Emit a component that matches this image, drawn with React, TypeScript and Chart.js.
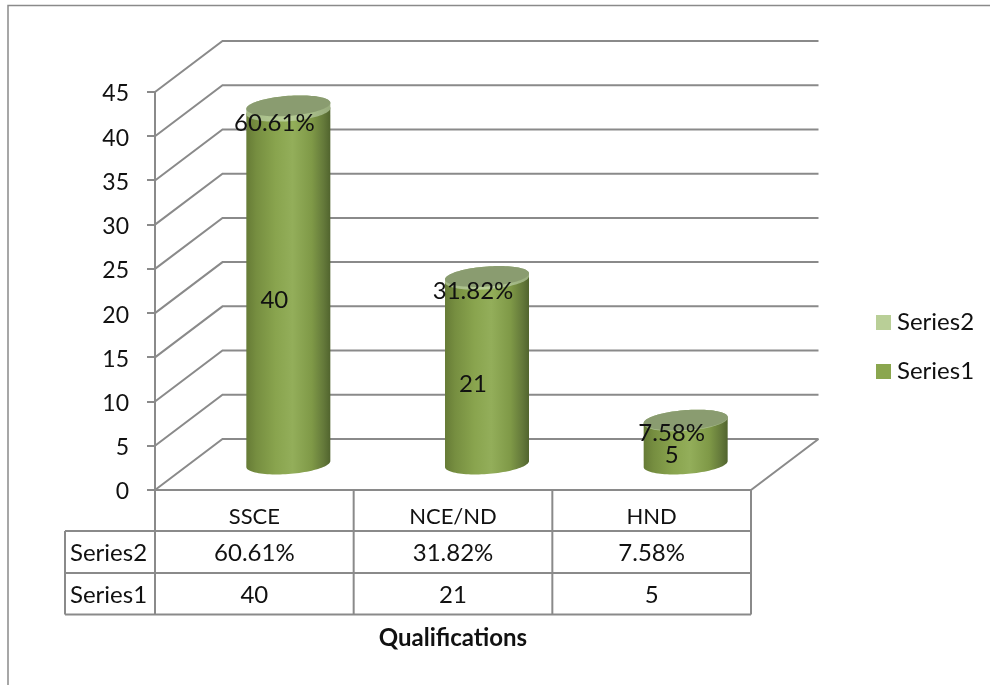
import React, { useEffect, useRef } from "react";
import { Chart, registerables } from "chart.js";

Chart.register(...registerables);

const categories = ["SSCE", "NCE/ND", "HND"];
const series1Values = [40, 21, 5];
const series2Percent = [60.61, 31.82, 7.58];
const yTicks = [0, 5, 10, 15, 20, 25, 30, 35, 40, 45];

const FONT = "Lato, 'Open Sans', sans-serif";
const LINE = "#8a8a8a";
const TEXT = "#111111";
const SERIES1 = "#8aa64e";
const SERIES2 = "#b9cf97";

// Oblique projection: how far the back wall sits from the front plane.
const DEPTH_X = 67.5;
const DEPTH_Y = -51;
// Columns stand half way into the floor; their labels a little nearer the front.
const COLUMN_DX = 34;
const COLUMN_DY = -25;
const LABEL_DX = 20;
const LABEL_DY = -13;
// Sheared ellipse of a column end.
const END_B = 10;
const END_TILT = 3;
// Lato sits a little high on a middle baseline.
const TEXT_NUDGE = 1.5;

function endPoint(cx: number, cy: number, a: number, t: number): [number, number] {
  return [cx + a * Math.cos(t), cy + END_B * Math.sin(t) - END_TILT * Math.cos(t)];
}

// Traces a column side from the front half of the lower end to the upper end.
function traceBody(ctx: CanvasRenderingContext2D, cx: number, top: number, bottom: number, a: number) {
  ctx.beginPath();
  for (let i = 0; i <= 48; i++) {
    const [x, y] = endPoint(cx, bottom, a, (i / 48) * Math.PI);
    if (i === 0) ctx.moveTo(x, y);
    else ctx.lineTo(x, y);
  }
  for (let i = 0; i <= 48; i++) {
    const [x, y] = endPoint(cx, top, a, Math.PI + (i / 48) * Math.PI);
    ctx.lineTo(x, y);
  }
  ctx.closePath();
}

function traceCap(ctx: CanvasRenderingContext2D, cx: number, cy: number, a: number) {
  ctx.beginPath();
  for (let i = 0; i <= 96; i++) {
    const [x, y] = endPoint(cx, cy, a, (i / 96) * Math.PI * 2);
    if (i === 0) ctx.moveTo(x, y);
    else ctx.lineTo(x, y);
  }
  ctx.closePath();
}

function sideGradient(ctx: CanvasRenderingContext2D, cx: number, a: number, stops: [number, string][]) {
  const g = ctx.createLinearGradient(cx - a, 0, cx + a, 0);
  stops.forEach(([o, c]) => g.addColorStop(o, c));
  return g;
}

const seriesOneShade: [number, string][] = [
  [0, "#667b36"],
  [0.12, "#768e40"],
  [0.35, "#89a44e"],
  [0.55, "#93ae5a"],
  [0.78, "#7f9947"],
  [0.92, "#64793a"],
  [1, "#51642e"],
];

const seriesTwoShade: [number, string][] = [
  [0, "#a3b886"],
  [0.5, "#b9cf97"],
  [1, "#98ac7d"],
];

const wallPlugin = {
  id: "wallsAndColumns",
  beforeDatasetsDraw(chart: any) {
    const { ctx, scales } = chart;
    const x = scales.x;
    const y = scales.y;
    const left = x.left;
    const right = x.right;
    const zero = y.getPixelForValue(0);

    ctx.save();
    // Frame of the chart object.
    ctx.strokeStyle = LINE;
    ctx.lineWidth = 1.5;
    ctx.beginPath();
    ctx.moveTo(8, 685);
    ctx.lineTo(8, 5.5);
    ctx.lineTo(990, 5.5);
    ctx.stroke();

    // Gridlines run along the back wall and fold forward down the side wall.
    ctx.lineWidth = 2;
    ctx.lineCap = "butt";
    yTicks.forEach((v) => {
      const py = y.getPixelForValue(v);
      ctx.beginPath();
      ctx.moveTo(left, py);
      ctx.lineTo(left + DEPTH_X, py + DEPTH_Y);
      ctx.lineTo(right + DEPTH_X, py + DEPTH_Y);
      ctx.stroke();
    });
    ctx.beginPath();
    ctx.moveTo(left, zero);
    ctx.lineTo(right, zero);
    ctx.lineTo(right + DEPTH_X, zero + DEPTH_Y);
    ctx.stroke();

    // Columns, taking their geometry from the bar elements.
    const lower = chart.getDatasetMeta(0).data;
    const upper = chart.getDatasetMeta(1).data;
    lower.forEach((bar: any, i: number) => {
      const props = bar.getProps(["x", "y", "base", "width"], true);
      const a = props.width / 2;
      const cx = props.x + COLUMN_DX;
      const bottom = props.base + COLUMN_DY;
      const top = props.y + COLUMN_DY;
      const capY = upper[i].getProps(["y"], true).y + COLUMN_DY;

      traceBody(ctx, cx, top, bottom, a);
      ctx.fillStyle = sideGradient(ctx, cx, a, seriesOneShade);
      ctx.fill();

      traceBody(ctx, cx, capY, top, a);
      ctx.fillStyle = sideGradient(ctx, cx, a, seriesTwoShade);
      ctx.fill();

      traceCap(ctx, cx, capY, a);
      ctx.fillStyle = "#8a9c70";
      ctx.fill();
    });
    ctx.restore();
    return false;
  },
  afterDraw(chart: any) {
    const { ctx, scales } = chart;
    const x = scales.x;
    const y = scales.y;
    const band = (x.right - x.left) / categories.length;
    const row0 = 531;
    const row1 = 573;
    const row2 = 614.5;
    const tableLeft = 65;

    ctx.save();
    // Data table grid.
    ctx.strokeStyle = LINE;
    ctx.lineWidth = 2;
    [row0, row1, row2].forEach((ry) => {
      ctx.beginPath();
      ctx.moveTo(tableLeft, ry);
      ctx.lineTo(x.right, ry);
      ctx.stroke();
    });
    ctx.beginPath();
    ctx.moveTo(tableLeft, row0);
    ctx.lineTo(tableLeft, row2);
    ctx.stroke();
    for (let i = 0; i <= categories.length; i++) {
      const vx = x.left + band * i;
      ctx.beginPath();
      ctx.moveTo(vx, y.getPixelForValue(0));
      ctx.lineTo(vx, row2);
      ctx.stroke();
    }

    ctx.fillStyle = TEXT;
    ctx.font = `24px ${FONT}`;
    ctx.textBaseline = "middle";

    // Row headers and cells.
    ctx.textAlign = "left";
    ctx.fillText("Series2", 70, (row0 + row1) / 2 + TEXT_NUDGE);
    ctx.fillText("Series1", 70, (row1 + row2) / 2 + TEXT_NUDGE);
    ctx.textAlign = "center";
    categories.forEach((_, i) => {
      const cx = x.getPixelForValue(i);
      ctx.fillText(`${series2Percent[i].toFixed(2)}%`, cx, (row0 + row1) / 2 + TEXT_NUDGE);
      ctx.fillText(String(series1Values[i]), cx, (row1 + row2) / 2 + TEXT_NUDGE);
    });

    // Data labels over the columns.
    categories.forEach((_, i) => {
      const cx = x.getPixelForValue(i) + LABEL_DX;
      const v = series1Values[i];
      ctx.fillText(String(v), cx, y.getPixelForValue(v / 2) + LABEL_DY);
      ctx.fillText(`${series2Percent[i].toFixed(2)}%`, cx, y.getPixelForValue(v) + LABEL_DY);
    });

    // Legend, top entry first.
    const entries: [string, string, number][] = [
      ["Series2", SERIES2, 322.5],
      ["Series1", SERIES1, 371.5],
    ];
    ctx.textAlign = "left";
    entries.forEach(([name, color, ly]) => {
      ctx.fillStyle = color;
      ctx.fillRect(876, ly - 7.5, 15, 15);
      ctx.fillStyle = TEXT;
      ctx.fillText(name, 897, ly);
    });
    ctx.restore();
  },
};

export default function App() {
  const ref = useRef<HTMLCanvasElement | null>(null);

  useEffect(() => {
    if (!ref.current) return;
    const chart = new Chart(ref.current, {
      type: "bar",
      data: {
        labels: categories,
        datasets: [
          { label: "Series1", data: series1Values, backgroundColor: SERIES1, stack: "s" },
          { label: "Series2", data: series2Percent.map((p) => p / 100), backgroundColor: SERIES2, stack: "s" },
        ],
      },
      plugins: [wallPlugin],
      options: {
        responsive: false,
        animation: false,
        datasets: { bar: { barThickness: 84 } },
        layout: { padding: { left: 0, right: 239, top: 92, bottom: 32 } },
        plugins: { legend: { display: false }, tooltip: { enabled: false }, title: { display: false } },
        scales: {
          x: {
            stacked: true,
            grid: { display: false },
            border: { display: false },
            ticks: { color: TEXT, font: { family: FONT, size: 22 }, padding: 6, maxRotation: 0 },
            title: {
              display: true,
              text: "Qualifications",
              color: TEXT,
              font: { family: FONT, size: 24, weight: "bold" },
              padding: 0,
            },
            afterFit: (s: any) => {
              s.height = 163;
            },
          },
          y: {
            stacked: true,
            min: 0,
            max: 45,
            afterBuildTicks: (s: any) => {
              s.ticks = yTicks.map((value) => ({ value }));
            },
            grid: { drawOnChartArea: false, drawTicks: true, tickLength: 8, color: LINE, lineWidth: 2 },
            border: { display: true, color: LINE, width: 2 },
            ticks: { color: TEXT, font: { family: FONT, size: 23 }, padding: 18, labelOffset: 2 },
            afterFit: (s: any) => {
              s.width = 155;
            },
          },
        },
      } as any,
    });
    return () => chart.destroy();
  }, []);

  return (
    <div style={{ position: "absolute", left: 0, top: 0, width: 990, height: 685, background: "#fff" }}>
      <canvas ref={ref} width={990} height={685} style={{ display: "block" }} />
    </div>
  );
}
